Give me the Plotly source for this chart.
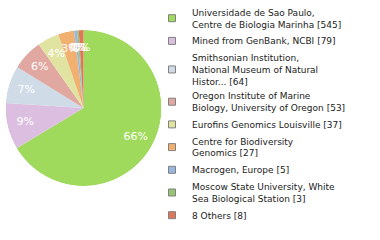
import numpy as np
import plotly.graph_objects as go

labels = [
    "Universidade de Sao Paulo,<br>Centre de Biologia Marinha [545]",
    "Mined from GenBank, NCBI [79]",
    "Smithsonian Institution,<br>National Museum of Natural<br>Histor... [64]",
    "Oregon Institute of Marine<br>Biology, University of Oregon [53]",
    "Eurofins Genomics Louisville [37]",
    "Centre for Biodiversity<br>Genomics [27]",
    "Macrogen, Europe [5]",
    "Moscow State University, White<br>Sea Biological Station [3]",
    "8 Others [8]",
]
values = [545, 79, 64, 53, 37, 27, 5, 3, 8]
colors = ["#a0da5c", "#dcbfe0", "#cfdbe6", "#e0a8a0", "#e1e4a1", "#f1b070",
          "#98b8de", "#98c474", "#e07858"]

vals = np.array(values, dtype=float)
total = vals.sum()
pct_text = [f"{int(np.floor(v / total * 100))}%" for v in vals]
widths = 360.0 * vals / total
mid_theta = 360.0 * (np.cumsum(vals) - vals / 2) / total

fig = go.Figure()
dom_x = [5 / 380, 162 / 380]
dom_y = [1 - 186 / 240, 1 - 30 / 240]

for i, (lab, col) in enumerate(zip(labels, colors)):
    fig.add_trace(go.Barpolar(
        r=[1], theta=[mid_theta[i]], width=[widths[i]], base=0,
        marker=dict(color=col, line=dict(width=0)),
        name=lab, showlegend=False, hoverinfo="skip",
    ))

fig.add_trace(go.Scatterpolar(
    r=[0.77] * len(values), theta=mid_theta, mode="text", text=pct_text,
    textfont=dict(color="white", family="DejaVu Sans", size=11),
    showlegend=False, hoverinfo="skip",
))

for lab, col in zip(labels, colors):
    fig.add_trace(go.Scatterpolar(
        r=[None], theta=[None], mode="markers", name=lab,
        marker=dict(symbol="square", size=7, color=col,
                    line=dict(color="#808080", width=1)),
    ))

fig.update_layout(
    width=380, height=240, margin=dict(l=0, r=0, t=0, b=0),
    paper_bgcolor="white", plot_bgcolor="white",
    polar=dict(
        domain=dict(x=dom_x, y=dom_y),
        bgcolor="rgba(0,0,0,0)", bargap=0, hole=0,
        radialaxis=dict(range=[0, 1], visible=False),
        angularaxis=dict(rotation=90, direction="clockwise", visible=False),
    ),
    legend=dict(x=152 / 380, y=1, xanchor="left", yanchor="top",
                font=dict(family="DejaVu Sans", size=9, color="#222"),
                itemwidth=30, tracegroupgap=0, bgcolor="rgba(0,0,0,0)"),
    showlegend=True,
)

fig.write_html("out.html")
